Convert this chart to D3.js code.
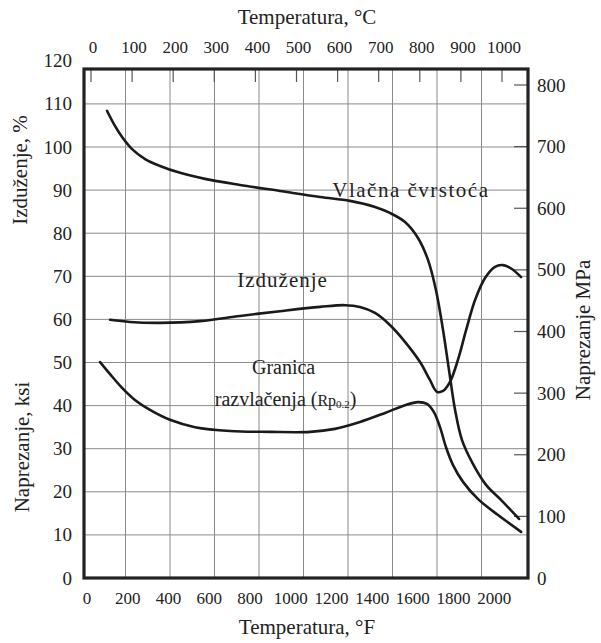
<!DOCTYPE html>
<html>
<head>
<meta charset="utf-8">
<script src="https://cdn.jsdelivr.net/npm/d3@7"></script>
<style>
  body { margin: 0; background: #fff; }
  text { font-family: "Liberation Serif", "DejaVu Serif", serif; fill: #222; }
</style>
</head>
<body>
<script>
// temperature in °F, values on the left axis (ksi / %)
const tensileF = [113, 147, 187, 236, 300, 373, 472, 594, 766, 962, 1159, 1306, 1429, 1502, 1576, 1640, 1689, 1728, 1763, 1792, 1822, 1856, 1905, 1974, 2052, 2136];
const tensileKsi = [108.4, 105.3, 102.3, 99.5, 97.2, 95.6, 94.0, 92.6, 91.2, 89.8, 88.4, 87.5, 86.1, 84.7, 82.6, 78.9, 73.8, 66.8, 57.5, 48.3, 39.0, 32.0, 26.9, 21.6, 17.9, 13.7];

const elongF = [128, 226, 373, 570, 766, 962, 1159, 1281, 1355, 1429, 1502, 1576, 1650, 1699, 1733, 1763, 1797, 1836, 1876, 1920, 1969, 2018, 2057, 2101, 2146];
const elongPct = [59.9, 59.4, 59.2, 59.6, 60.8, 61.9, 62.9, 63.3, 62.9, 61.5, 58.7, 54.8, 50.1, 45.9, 43.2, 43.4, 45.5, 50.6, 57.5, 64.5, 69.6, 72.2, 72.6, 71.7, 69.8];

const yieldF = [79, 128, 187, 250, 324, 422, 545, 717, 913, 1110, 1232, 1355, 1478, 1576, 1640, 1684, 1718, 1748, 1777, 1812, 1861, 1935, 2033, 2146];
const yieldKsi = [50.1, 47.3, 44.1, 41.3, 39.0, 36.7, 35.0, 34.1, 33.9, 33.9, 34.6, 36.2, 38.3, 40.1, 40.8, 40.4, 38.5, 35.0, 30.4, 26.2, 22.3, 18.3, 14.6, 10.7];

// tick labels
const ticksF = [0, 200, 400, 600, 800, 1000, 1200, 1400, 1600, 1800, 2000];
const ticksC = [0, 100, 200, 300, 400, 500, 600, 700, 800, 900, 1000];
const ticksLeft = [0, 10, 20, 30, 40, 50, 60, 70, 80, 90, 100, 110, 120];
const ticksMPa = [0, 100, 200, 300, 400, 500, 600, 700, 800];

const width = 601;
const height = 643;
const plotL = 84, plotR = 528, plotT = 69, plotB = 578;

const svg = d3.select("body")
    .append("svg")
    .attr("width", width)
    .attr("height", height);

// scales
const x = d3.scaleLinear().domain([0, 2180]).range([plotL, plotR]);
const xC = d3.scaleLinear().domain([0, 1000]).range([91, 502]);
const y = d3.scaleLinear().domain([0, 110]).range([plotB, plotB - 110 * 4.31]);
const yMPa = d3.scaleLinear().domain([0, 800]).range([plotB, 85]);
const gridX = d3.scaleLinear().domain([0, 10]).range([81, 526]);

// grid
svg.append("g")
    .selectAll("line")
    .data(d3.range(1, 10))
    .join("line")
    .attr("x1", d => gridX(d)).attr("x2", d => gridX(d))
    .attr("y1", plotT).attr("y2", plotB)
    .attr("stroke", "#8a8a8a").attr("stroke-width", 1);

svg.append("g")
    .selectAll("line")
    .data(ticksLeft.filter(d => d > 0 && d < 120))
    .join("line")
    .attr("x1", plotL).attr("x2", plotR)
    .attr("y1", d => y(d)).attr("y2", d => y(d))
    .attr("stroke", "#8a8a8a").attr("stroke-width", 1);

// short ticks: °C on top, MPa on the right
svg.append("g")
    .selectAll("line")
    .data(ticksC)
    .join("line")
    .attr("x1", d => xC(d)).attr("x2", d => xC(d))
    .attr("y1", plotT).attr("y2", plotT + 13)
    .attr("stroke", "#555").attr("stroke-width", 1.2);

svg.append("g")
    .selectAll("line")
    .data(ticksMPa.filter(d => d > 0))
    .join("line")
    .attr("x1", plotR - 14).attr("x2", plotR)
    .attr("y1", d => yMPa(d)).attr("y2", d => yMPa(d))
    .attr("stroke", "#555").attr("stroke-width", 1.2);

// curves
const line = d3.line()
    .x(d => x(d[0]))
    .y(d => y(d[1]))
    .curve(d3.curveCatmullRom.alpha(0.5));

const curves = [
    d3.zip(tensileF, tensileKsi),
    d3.zip(elongF, elongPct),
    d3.zip(yieldF, yieldKsi)
];
svg.append("g")
    .selectAll("path")
    .data(curves)
    .join("path")
    .attr("d", line)
    .attr("fill", "none")
    .attr("stroke", "#1a1a1a")
    .attr("stroke-width", 2.6)
    .attr("stroke-linecap", "round");

// frame
svg.append("rect")
    .attr("x", plotL).attr("y", plotT)
    .attr("width", plotR - plotL).attr("height", plotB - plotT)
    .attr("fill", "none")
    .attr("stroke", "#222")
    .attr("stroke-width", 3.2);

// tick labels
svg.append("g")
    .selectAll("text")
    .data(ticksLeft)
    .join("text")
    .attr("x", 72)
    .attr("y", d => y(d) + 6.5)
    .attr("text-anchor", "end")
    .style("font-size", "19px")
    .text(d => d);

svg.append("g")
    .selectAll("text")
    .data(ticksMPa)
    .join("text")
    .attr("x", 537)
    .attr("y", d => yMPa(d) + 6.5)
    .style("font-size", "19px")
    .text(d => d);

svg.append("g")
    .selectAll("text")
    .data(ticksF)
    .join("text")
    .attr("x", d => x(d) + 3)
    .attr("y", 604)
    .attr("text-anchor", "middle")
    .style("font-size", "17px")
    .text(d => d);

svg.append("g")
    .selectAll("text")
    .data(ticksC)
    .join("text")
    .attr("x", d => xC(d) + 2)
    .attr("y", 53)
    .attr("text-anchor", "middle")
    .style("font-size", "17px")
    .text(d => d);

// axis titles
svg.append("text")
    .attr("x", 307).attr("y", 24)
    .attr("text-anchor", "middle")
    .style("font-size", "21px")
    .text("Temperatura, °C");

svg.append("text")
    .attr("x", 307).attr("y", 634)
    .attr("text-anchor", "middle")
    .style("font-size", "21px")
    .text("Temperatura, °F");

svg.append("text")
    .attr("transform", "translate(27,170) rotate(-90)")
    .attr("text-anchor", "middle")
    .style("font-size", "21px")
    .text("Izduženje, %");

svg.append("text")
    .attr("transform", "translate(29,447) rotate(-90)")
    .attr("text-anchor", "middle")
    .style("font-size", "21px")
    .text("Naprezanje, ksi");

svg.append("text")
    .attr("transform", "translate(590,330) rotate(-90)")
    .attr("text-anchor", "middle")
    .style("font-size", "21px")
    .text("Naprezanje MPa");

// curve labels
svg.append("text")
    .attr("x", x(1605)).attr("y", y(88.4))
    .attr("text-anchor", "middle")
    .style("font-size", "21px")
    .style("letter-spacing", "1.5px")
    .text("Vlačna čvrstoća");

svg.append("text")
    .attr("x", x(975)).attr("y", y(67.5))
    .attr("text-anchor", "middle")
    .style("font-size", "21px")
    .style("letter-spacing", "1px")
    .text("Izduženje");

svg.append("text")
    .attr("x", x(980)).attr("y", y(47.4))
    .attr("text-anchor", "middle")
    .style("font-size", "20px")
    .text("Granica");

const rp = svg.append("text")
    .attr("x", x(990)).attr("y", y(40))
    .attr("text-anchor", "middle")
    .style("font-size", "20px");
rp.append("tspan").text("razvlačenja (");
rp.append("tspan").style("font-size", "16px").text("Rp");
rp.append("tspan").style("font-size", "11px").attr("dy", 2).text("0.2");
rp.append("tspan").attr("dy", -2).text(")");
</script>
</body>
</html>
